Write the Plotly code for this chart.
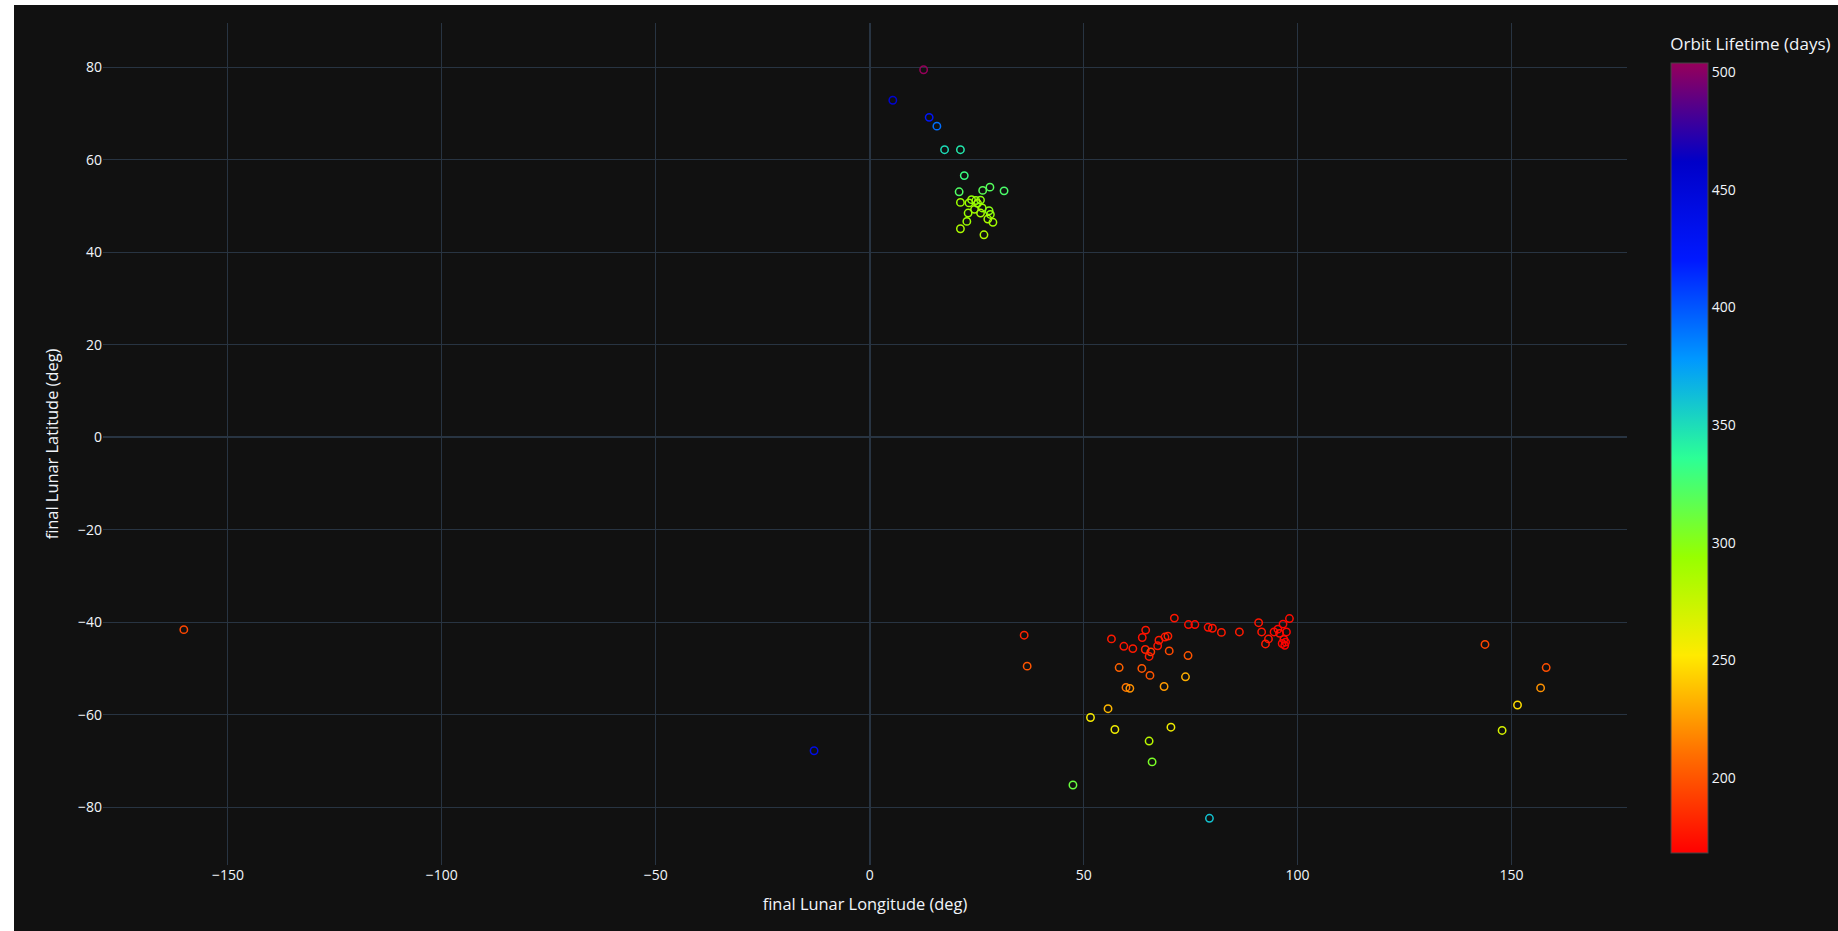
import plotly.graph_objects as go

# final lunar longitude (deg)
lon = [
    12.6, 5.4, 13.9, 15.7, 17.5, 21.2, 22.1, 20.9, 26.4, 28.1, 31.4,
    21.2, 23.8, 23.2, 24.8, 25.9, 25.2, 24.5, 26.3, 27.9, 23.0, 25.9,
    28.2, 27.6, 28.8, 22.7, 21.2, 26.7,
    -160.3, -13.0, 36.1, 36.8, 47.5, 51.6, 55.7, 57.3, 70.4, 65.3, 66.0,
    79.4, 143.8, 158.1, 156.8, 151.4, 147.8,
    56.5, 59.4, 61.5, 64.5, 63.7, 64.4, 65.7, 65.3, 67.3, 67.6, 69.0,
    69.7, 71.2, 70.0, 74.4, 58.3, 63.6, 65.5, 59.9, 60.8, 68.8, 73.8,
    74.5, 76.0, 79.1, 80.1, 82.2, 86.4, 90.9, 91.6, 93.2, 92.5, 94.5,
    95.4, 95.8, 96.6, 98.1, 97.4, 96.8, 96.4, 97.2, 97.0,
]
# final lunar latitude (deg)
lat = [
    79.5, 72.9, 69.2, 67.3, 62.2, 62.2, 56.6, 53.1, 53.4, 54.1, 53.3,
    50.8, 51.4, 50.7, 51.2, 51.3, 50.6, 49.3, 49.6, 49.0, 48.5, 48.5,
    48.2, 47.2, 46.5, 46.7, 45.1, 43.8,
    -41.6, -67.8, -42.8, -49.5, -75.2, -60.6, -58.7, -63.2, -62.7, -65.7, -70.2,
    -82.4, -44.8, -49.8, -54.2, -57.9, -63.4,
    -43.6, -45.2, -45.7, -41.7, -43.3, -45.9, -46.4, -47.4, -45.1, -43.9, -43.2,
    -43.0, -39.1, -46.2, -47.2, -49.8, -50.0, -51.5, -54.1, -54.3, -53.9, -51.8,
    -40.5, -40.5, -41.1, -41.3, -42.2, -42.1, -40.1, -42.1, -43.6, -44.7, -42.1,
    -41.5, -42.4, -40.4, -39.2, -42.1, -43.7, -44.6, -44.3, -45.0,
]
# orbit lifetime (days)
lifetime = [
    504, 455, 425, 392, 350, 345, 330, 322, 318, 320, 324,
    292, 296, 290, 294, 298, 288, 290, 294, 300, 292, 288,
    296, 286, 290, 292, 286, 284,
    195, 440, 182, 200, 312, 255, 235, 258, 258, 280, 305,
    360, 195, 198, 222, 248, 268,
    178, 176, 178, 176, 174, 180, 190, 178, 176, 178, 176,
    180, 176, 196, 200, 205, 200, 200, 212, 222, 225, 232,
    174, 172, 174, 176, 178, 178, 176, 176, 176, 178, 172,
    170, 174, 170, 172, 170, 172, 170, 168, 169,
]

fig = go.Figure(
    go.Scatter(
        x=lon,
        y=lat,
        mode="markers",
        marker=dict(
            symbol="circle-open",
            size=7.4,
            line=dict(width=1.5),
            color=lifetime,
            colorscale="Rainbow_r",
            showscale=True,
            colorbar=dict(
                title=dict(text="Orbit Lifetime (days)", font=dict(size=17)),
                thickness=37,
                tickfont=dict(size=14),
                xref="container",
                x=0.9083,
                xanchor="left",
                xpad=0,
                ypad=12,
            ),
        ),
    )
)

fig.update_layout(
    template="plotly_dark",
    width=1824,
    height=926,
    margin=dict(l=89, r=211, t=18, b=66),
    font=dict(size=14),
    xaxis=dict(
        title=dict(text="final Lunar Longitude (deg)", font=dict(size=16.4)),
        zerolinewidth=2.3,
    ),
    yaxis=dict(
        title=dict(text="final Lunar Latitude (deg)", font=dict(size=16.4)),
        zerolinewidth=2.3,
    ),
)

fig.write_html(
    "out.html",
    post_script="document.body.style.margin='5px 0px 0px 14px';",
)
